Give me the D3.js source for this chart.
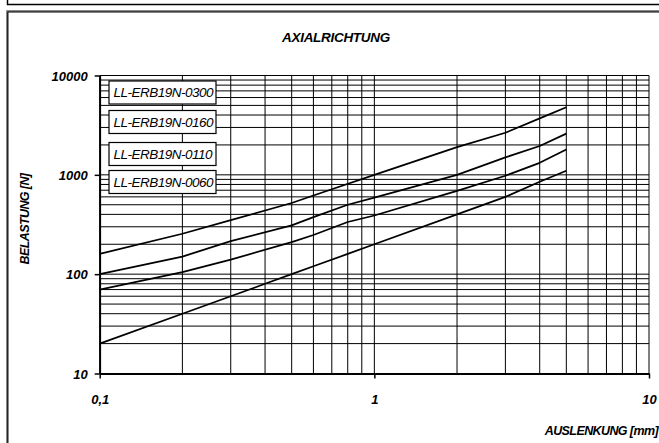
<!DOCTYPE html>
<html><head><meta charset="utf-8">
<script src="https://cdn.jsdelivr.net/npm/d3@7/dist/d3.min.js"></script>
<style>
html,body{margin:0;padding:0;background:#fff;overflow:hidden;width:659px;height:443px}
svg{display:block}
text{font-family:"Liberation Sans",Arial,sans-serif;font-style:italic}
</style></head>
<body>
<svg id="c" width="659" height="443"></svg>
<script>
// ---- data ----
const seriesNames = ["LL-ERB19N-0300","LL-ERB19N-0160","LL-ERB19N-0110","LL-ERB19N-0060"];
const xTop  = [0.1,0.2,0.3,0.5,0.6,0.7,1,2,3,4,5];
const yTop  = [160,255,350,520,620,715,1000,1900,2650,3700,4800];
const x0160 = [0.1,0.2,0.3,0.5,0.6,0.8,1,2,3,4,5];
const y0160 = [100,150,215,310,375,500,590,1000,1500,1950,2600];
const x0110 = [0.1,0.2,0.3,0.5,0.6,0.8,1,2,3,4,5];
const y0110 = [70,105,140,210,248,335,390,690,980,1320,1800];
const x0060 = [0.1,0.2,0.3,0.4,0.5,0.6,0.8,1,2,3,4,5];
const y0060 = [20,40,60,80,100,120,160,200,400,600,850,1100];
const xTickLabels = ["0,1","1","10"];
const yTickLabels = ["10","100","1000","10000"];
const title = "AXIALRICHTUNG";
const xTitle = "AUSLENKUNG [mm]";
const yTitle = "BELASTUNG [N]";

const curves = [
  xTop.map((x,i)=>[x,yTop[i]]),
  x0160.map((x,i)=>[x,y0160[i]]),
  x0110.map((x,i)=>[x,y0110[i]]),
  x0060.map((x,i)=>[x,y0060[i]])
];

// ---- layout ----
const svg = d3.select("#c");
const X0=99.7, X1=649, Y0=373.5, Y1=75.5;
const x = d3.scaleLog().domain([0.1,10]).range([X0,X1]);
const y = d3.scaleLog().domain([10,10000]).range([Y0,Y1]);

// frames
svg.append("path").attr("d","M7.5,0 V4.5 H659").attr("fill","none").attr("stroke","#000").attr("stroke-width",1.5);
svg.append("path").attr("d","M6.5,443 V10.5 H659").attr("fill","none").attr("stroke","#888").attr("stroke-width",1);
svg.append("path").attr("d","M7.8,443 V11.8 H659").attr("fill","none").attr("stroke","#000").attr("stroke-width",1.3);

// minor/major gridlines
const xGrid=[], yGrid=[];
for (let d=0.1; d<10; d*=10) for (let k=1;k<=9;k++) xGrid.push(+(d*k).toPrecision(3));
xGrid.push(10);
for (let d=10; d<10000; d*=10) for (let k=1;k<=9;k++) yGrid.push(d*k);
yGrid.push(10000);

const g = svg.append("g");
g.selectAll("line.v").data(xGrid).join("line")
  .attr("x1",d=>x(d)).attr("x2",d=>x(d)).attr("y1",Y1).attr("y2",Y0)
  .attr("stroke","#000").attr("stroke-width",1);
g.selectAll("line.h").data(yGrid).join("line")
  .attr("x1",X0).attr("x2",X1).attr("y1",d=>y(d)).attr("y2",d=>y(d))
  .attr("stroke","#000").attr("stroke-width",1);

// axes
const xAxis = d3.axisBottom(x).tickValues([0.1,1,10]).tickSize(5).tickSizeOuter(0).tickFormat((d,i)=>xTickLabels[i]);
const yAxis = d3.axisLeft(y).tickValues([10,100,1000,10000]).tickSize(5).tickSizeOuter(0).tickFormat((d,i)=>yTickLabels[i]);
const gx = svg.append("g").attr("transform",`translate(0,${Y0})`).call(xAxis);
const gy = svg.append("g").attr("transform",`translate(${X0},0)`).call(yAxis);
[gx,gy].forEach(a=>{
  a.select(".domain").attr("stroke","#000").attr("stroke-width",1.8);
  a.selectAll(".tick line").attr("stroke","#000").attr("stroke-width",1.5);
  a.selectAll("text").attr("font-family","'Liberation Sans',Arial,sans-serif")
   .attr("font-style","italic").attr("font-weight","bold").attr("font-size",13).attr("fill","#000");
});
gx.selectAll("text").attr("dy",0).attr("y",30);
gy.selectAll("text").attr("x",-12).attr("dy","0.35em");

// curves
const line = d3.line().x(d=>x(d[0])).y(d=>y(d[1]));
svg.append("g").selectAll("path").data(curves).join("path")
  .attr("d",line).attr("fill","none").attr("stroke","#000").attr("stroke-width",1.7)
  .attr("stroke-linejoin","round");

// legend boxes
const boxTops=[81,110.5,142.5,170.5];
const lg = svg.append("g");
seriesNames.forEach((n,i)=>{
  lg.append("rect").attr("x",109).attr("y",boxTops[i]).attr("width",107).attr("height",23)
    .attr("fill","#fff").attr("stroke","#000").attr("stroke-width",1.2);
  lg.append("text").attr("x",113.5).attr("y",boxTops[i]+16).attr("font-size",13.5)
    .attr("letter-spacing",-0.5).text(n);
});

// titles
svg.append("text").attr("x",336).attr("y",42).attr("text-anchor","middle")
  .attr("font-weight","bold").attr("font-size",13.5).attr("letter-spacing",-0.3).text(title);
svg.append("text").attr("x",658).attr("y",435).attr("text-anchor","end")
  .attr("font-weight","bold").attr("font-size",12.5).attr("letter-spacing",-0.6).text(xTitle);
svg.append("text").attr("transform","translate(29,219) rotate(-90)").attr("text-anchor","middle")
  .attr("font-weight","bold").attr("font-size",12.5).attr("letter-spacing",-0.6).text(yTitle);
</script>
</body></html>
